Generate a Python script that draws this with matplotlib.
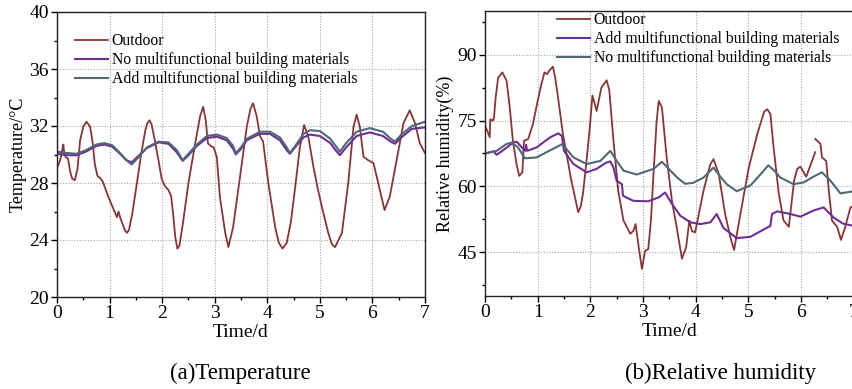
import numpy as np
import matplotlib
matplotlib.use("Agg")
import matplotlib.pyplot as plt
from matplotlib.ticker import MultipleLocator

plt.rcParams['font.family'] = ['Liberation Serif', 'DejaVu Serif']
plt.rcParams['mathtext.fontset'] = 'stix'

# ---------------- (a) Temperature ----------------
t_out_T = [0.00,0.06,0.10,0.12,0.14,0.17,0.21,0.25,0.29,0.34,0.39,0.44,0.50,0.56,0.63,0.68,0.72,0.77,0.82,0.87,
           0.93,0.98,1.06,1.14,1.17,1.20,1.24,1.29,1.33,1.37,1.43,1.52,1.60,1.68,1.72,1.76,1.80,1.86,1.93,1.99,
           2.05,2.12,2.17,2.21,2.25,2.29,2.33,2.40,2.50,2.63,2.72,2.78,2.83,2.87,2.92,2.98,3.04,3.10,3.20,3.26,
           3.35,3.48,3.61,3.68,3.73,3.80,3.86,3.92,4.02,4.15,4.22,4.29,4.37,4.45,4.53,4.62,4.70,4.78,4.88,4.96,
           5.04,5.16,5.23,5.29,5.42,5.54,5.64,5.70,5.76,5.83,5.92,6.02,6.11,6.23,6.33,6.46,6.59,6.71,6.81,6.90,7.00]
T_outdoor = [29.05,29.6,30.3,30.7,30.0,29.8,29.7,28.8,28.3,28.2,29.0,31.0,31.95,32.3,31.95,30.8,29.3,28.5,28.35,28.1,
             27.5,27.0,26.3,25.6,26.0,25.6,25.2,24.7,24.5,24.7,25.8,28.0,30.0,31.7,32.2,32.4,32.1,31.0,29.6,28.3,
             27.8,27.5,27.1,25.8,24.2,23.4,23.6,25.3,28.0,30.8,32.65,33.35,32.4,30.8,30.6,30.5,29.8,27.0,24.5,23.5,
             24.9,28.4,31.95,33.2,33.6,32.65,31.3,30.9,28.0,24.9,23.8,23.4,23.8,25.3,27.7,30.5,32.07,31.25,29.1,27.6,
             26.3,24.5,23.7,23.5,24.5,28.0,31.95,32.8,31.95,29.85,29.6,29.4,28.0,26.1,27.05,29.6,32.2,33.1,32.2,30.8,30.1]

t_in_T = [0,0.2,0.37,0.55,0.75,0.9,1.05,1.2,1.32,1.42,1.55,1.71,1.93,2.12,2.28,2.39,2.5,2.66,2.85,3.04,
          3.23,3.35,3.40,3.5,3.61,3.86,4.05,4.24,4.37,4.43,4.55,4.69,4.81,5.0,5.2,5.3,5.38,5.5,5.7,5.95,
          6.2,6.35,6.43,6.55,6.75,7.0]
T_no = [30.05,29.95,29.95,30.2,30.6,30.7,30.55,30.05,29.6,29.45,29.9,30.45,30.85,30.75,30.15,29.55,29.95,30.6,31.15,31.25,
        31.0,30.4,30.0,30.4,31.0,31.45,31.45,31.0,30.3,30.05,30.6,31.2,31.4,31.3,30.8,30.3,29.95,30.5,31.3,31.55,
        31.3,30.9,30.75,31.2,31.8,31.9]
T_add = [30.2,30.1,30.05,30.3,30.7,30.8,30.65,30.1,29.6,29.3,29.8,30.5,30.9,30.85,30.3,29.6,30.05,30.7,31.3,31.4,
         31.15,30.6,30.1,30.5,31.1,31.6,31.6,31.2,30.5,30.1,30.7,31.45,31.7,31.65,31.1,30.6,30.2,30.8,31.6,31.85,
         31.6,31.1,30.9,31.4,32.0,32.3]

# ---------------- (b) Relative humidity ----------------
t_out_RH = [0.00,0.05,0.09,0.10,0.15,0.17,0.20,0.25,0.33,0.41,0.47,0.53,0.60,0.65,0.71,0.74,0.82,0.91,1.00,1.07,
            1.13,1.18,1.22,1.29,1.33,1.37,1.48,1.64,1.77,1.82,1.86,1.93,1.99,2.04,2.08,2.12,2.21,2.31,2.36,2.44,
            2.53,2.63,2.76,2.82,2.86,2.92,2.98,3.04,3.10,3.15,3.20,3.26,3.30,3.36,3.45,3.55,3.64,3.74,3.82,3.88,
            3.93,3.99,4.15,4.28,4.34,4.44,4.56,4.66,4.73,4.85,5.01,5.17,5.30,5.36,5.42,5.48,5.58,5.67,5.77,5.87,
            5.93,5.99,6.10,6.21,6.27,6.27,6.27,6.33,6.37,6.40,6.48,6.53,6.59,6.69,6.76,6.84,6.94,7.00]
RH_outdoor = [73.8,72.5,71.2,75.3,75.0,75.5,80.0,84.8,86.0,84.1,78.0,70.4,65.0,62.4,63.2,70.4,70.8,74.2,79.5,83.3,
              86.0,85.6,86.4,87.3,85.0,81.8,71.9,61.3,54.1,55.5,58.3,66.0,73.5,80.7,79.0,77.2,82.5,84.2,82.0,70.4,
              59.0,52.2,49.2,49.9,51.4,46.1,41.2,45.3,45.7,52.0,62.8,75.0,79.5,78.0,66.6,56.7,50.7,43.5,46.1,52.2,
              49.8,49.5,59.0,65.1,66.2,62.8,53.7,48.4,45.5,53.7,64.3,71.9,77.0,77.6,76.5,68.9,58.3,52.2,50.8,61.3,
              64.0,64.5,62.2,65.8,67.8,np.nan,70.8,70.2,69.7,66.6,65.8,59.0,52.2,50.7,47.8,50.7,55.2,55.6]

t_no_RH = [0,0.22,0.40,0.50,0.62,0.76,0.98,1.20,1.46,1.52,1.68,1.93,2.19,2.33,2.38,2.50,2.63,2.88,3.20,3.36,
           3.45,3.65,3.80,3.95,4.15,4.34,4.45,4.59,4.78,5.04,5.25,5.38,5.50,5.61,5.86,6.05,6.25,6.40,6.56,6.75,7.0]
RH_no = [67.5,68.1,69.6,70.0,69.0,66.4,66.6,68.0,69.6,68.9,66.6,65.1,65.8,67.5,68.1,65.8,63.6,62.7,64.0,65.6,
         64.5,62.0,60.6,60.8,62.0,64.3,62.5,60.5,58.9,60.2,63.0,64.8,63.5,62.0,60.5,60.9,62.3,63.2,61.3,58.4,58.9]

t_add_RH = [0,0.10,0.16,0.22,0.35,0.54,0.60,0.70,0.76,0.78,0.80,0.98,1.24,1.39,1.46,1.50,1.68,1.93,2.12,2.30,
            2.38,2.44,2.50,2.55,2.60,2.62,2.66,2.82,3.10,3.30,3.42,3.55,3.71,3.90,4.09,4.28,4.40,4.53,4.78,5.04,
            5.42,5.45,5.55,5.80,5.99,6.24,6.43,6.62,6.80,7.0]
RH_add = [67.5,67.8,68.0,67.2,68.3,70.0,70.2,68.9,68.1,69.5,68.1,68.9,71.2,72.1,71.5,68.1,65.1,63.2,64.0,65.4,
          65.7,64.3,61.3,60.9,60.5,57.9,57.6,56.7,56.6,57.5,58.6,56.0,53.3,51.8,51.4,51.8,53.7,50.5,48.2,48.5,
          51.0,53.7,54.3,53.7,53.1,54.5,55.2,52.9,51.5,51.0]

C_OUT = '#8a3535'
C_PURPLE = '#6f2e93'
C_STEEL = '#4e6878'

W, H = 853, 389
fig = plt.figure(figsize=(W/100, H/100), dpi=100)

def frac(l, t, r, b):
    return [l/W, 1-b/H, (r-l)/W, (b-t)/H]

ax1 = fig.add_axes(frac(57, 12, 425, 297))
ax2 = fig.add_axes(frac(485, 11, 853.6, 296))

ax1.plot(t_out_T, T_outdoor, color=C_OUT, lw=1.3, label='Outdoor')
ax1.plot(t_in_T, T_no, color=C_PURPLE, lw=1.5, label='No multifunctional building materials')
ax1.plot(t_in_T, T_add, color=C_STEEL, lw=1.5, label='Add multifunctional building materials')
ax1.set_xlim(0, 7)
ax1.set_ylim(20, 40)
ax1.xaxis.set_major_locator(MultipleLocator(1))
ax1.xaxis.set_minor_locator(MultipleLocator(0.5))
ax1.yaxis.set_major_locator(MultipleLocator(4))
ax1.yaxis.set_minor_locator(MultipleLocator(2))
ax1.set_xlabel('Time/d', fontsize=14, labelpad=1)
ax1.set_ylabel('Temperature/°C', fontsize=13, labelpad=2)

ax2.plot(t_out_RH, RH_outdoor, color=C_OUT, lw=1.3, label='Outdoor')
ax2.plot(t_add_RH, RH_add, color=C_PURPLE, lw=1.5, label='Add multifunctional building materials')
ax2.plot(t_no_RH, RH_no, color=C_STEEL, lw=1.5, label='No multifunctional building materials')
ax2.set_xlim(0, 7)
ax2.set_ylim(35, 100)
ax2.xaxis.set_major_locator(MultipleLocator(1))
ax2.xaxis.set_minor_locator(MultipleLocator(0.5))
ax2.yaxis.set_major_locator(MultipleLocator(15))
ax2.yaxis.set_minor_locator(MultipleLocator(7.5))
ax2.set_xlabel('Time/d', fontsize=14, labelpad=1)
ax2.set_ylabel('Relative humidity(%)', fontsize=13, labelpad=2)

for ax in (ax1, ax2):
    ax.grid(True, which='major', color='#a8a8a8', linestyle=(0, (1, 1.5)), lw=0.8)
    ax.set_axisbelow(True)
    ax.tick_params(which='both', direction='out', top=False, right=False, labelsize=14, pad=2)
    ax.tick_params(which='major', length=4, width=1)
    ax.tick_params(which='minor', length=2.5, width=1)
    for s in ax.spines.values():
        s.set_linewidth(1.0)
        s.set_color('#222222')

ax1.legend(loc='upper left', bbox_to_anchor=(0.048, 0.925), frameon=False, fontsize=11.3,
           handlelength=2.1, handletextpad=0.25, labelspacing=0.18, borderpad=0, borderaxespad=0)
ax2.legend(loc='upper left', bbox_to_anchor=(0.195, 0.995), frameon=False, fontsize=11.3,
           handlelength=2.1, handletextpad=0.25, labelspacing=0.18, borderpad=0, borderaxespad=0)

fig.text(240/W, 1-373/H, '(a)Temperature', ha='center', va='center', fontsize=16.5)
fig.text(721/W, 1-373/H, '(b)Relative humidity', ha='center', va='center', fontsize=16.5)

fig.savefig('out.png', dpi=100)
